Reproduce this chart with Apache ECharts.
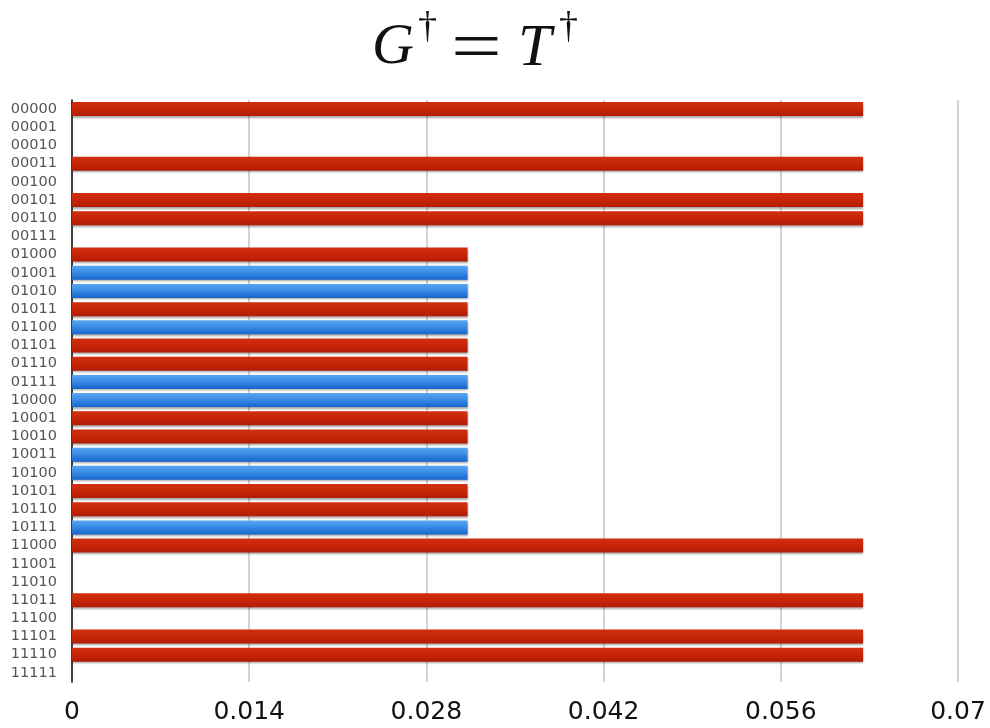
<!DOCTYPE html>
<html>
<head>
<meta charset="utf-8">
<script src="https://cdn.jsdelivr.net/npm/echarts@6/dist/echarts.min.js"></script>
<style>
html,body{margin:0;padding:0;background:#fff;}
#chart{width:990px;height:728px;}
</style>
</head>
<body>
<div id="chart"></div>
<script>
var categories = ["00000","00001","00010","00011","00100","00101","00110","00111",
  "01000","01001","01010","01011","01100","01101","01110","01111",
  "10000","10001","10010","10011","10100","10101","10110","10111",
  "11000","11001","11010","11011","11100","11101","11110","11111"];
// red bars (positive sign)
var redValues = [0.0625,null,null,0.0625,null,0.0625,0.0625,null,
  0.03125,null,null,0.03125,null,0.03125,0.03125,null,
  null,0.03125,0.03125,null,null,0.03125,0.03125,null,
  0.0625,null,null,0.0625,null,0.0625,0.0625,null];
// blue bars (negative sign)
var blueValues = [null,null,null,null,null,null,null,null,
  null,0.03125,0.03125,null,0.03125,null,null,0.03125,
  0.03125,null,null,0.03125,0.03125,null,null,0.03125,
  null,null,null,null,null,null,null,null];
var xTicks = [0,0.014,0.028,0.042,0.056,0.07];
var titleParts = ["G", "†", "=", "T", "†"];

var serif = 'Liberation Serif, DejaVu Serif, serif';
var chart = echarts.init(document.getElementById('chart'), null, {renderer:'canvas'});
var shadow = {shadowColor:'rgba(0,0,0,0.35)', shadowBlur:2, shadowOffsetY:1.5};
function tx(str, x, y, size, italic, sx){
  return {type:'text', x:x, y:y, scaleX:sx||1, silent:true,
    style:{text:str, font:(italic?'italic ':'normal ')+'normal '+size+'px '+serif, fill:'#111', textVerticalAlign:'top'}};
}
chart.setOption({
  animation:false,
  backgroundColor:'#fff',
  graphic:[
    tx(titleParts[0], 372, 19, 58, true),
    tx(titleParts[1], 418, 9, 38, false),
    tx(titleParts[2], 451, 15, 72, false, 1.25),
    tx(titleParts[3], 518, 19, 60, true),
    tx(titleParts[4], 559, 9, 38, false)
  ],
  grid:{left:72, right:32, top:100, bottom:46, containLabel:false},
  xAxis:{
    type:'value', min:0, max:0.07, interval:0.014,
    axisLine:{show:false},
    axisTick:{show:false},
    splitLine:{show:true, lineStyle:{color:'#c4c4c4', width:1.5}},
    axisLabel:{
      margin:18, fontSize:25, color:'#111',
      fontFamily:'DejaVu Sans, Liberation Sans, sans-serif',
      formatter:function(v){ for (var k=0;k<xTicks.length;k++){ if (Math.abs(v-xTicks[k])<1e-9) return String(xTicks[k]); } return ''; }
    }
  },
  yAxis:{
    type:'category', data:categories, inverse:true,
    axisLine:{show:true, lineStyle:{color:'#111', width:1.5}},
    axisTick:{show:false},
    splitLine:{show:false},
    axisLabel:{interval:0, margin:15, fontSize:14.5, color:'#555', fontFamily:'DejaVu Sans, Liberation Sans, sans-serif'}
  },
  series:[
    {type:'bar', name:'red', stack:'a', data:redValues, barWidth:14,
     itemStyle:Object.assign({color:new echarts.graphic.LinearGradient(0,0,0,1,[
       {offset:0,color:'#d0300f'},{offset:0.5,color:'#c72508'},{offset:1,color:'#b11c05'}])}, shadow)},
    {type:'bar', name:'blue', stack:'a', data:blueValues, barWidth:14,
     itemStyle:Object.assign({color:new echarts.graphic.LinearGradient(0,0,0,1,[
       {offset:0,color:'#5aa6f2'},{offset:0.45,color:'#3a8ce6'},{offset:1,color:'#1765cc'}])}, shadow)}
  ]
});
</script>
</body>
</html>
